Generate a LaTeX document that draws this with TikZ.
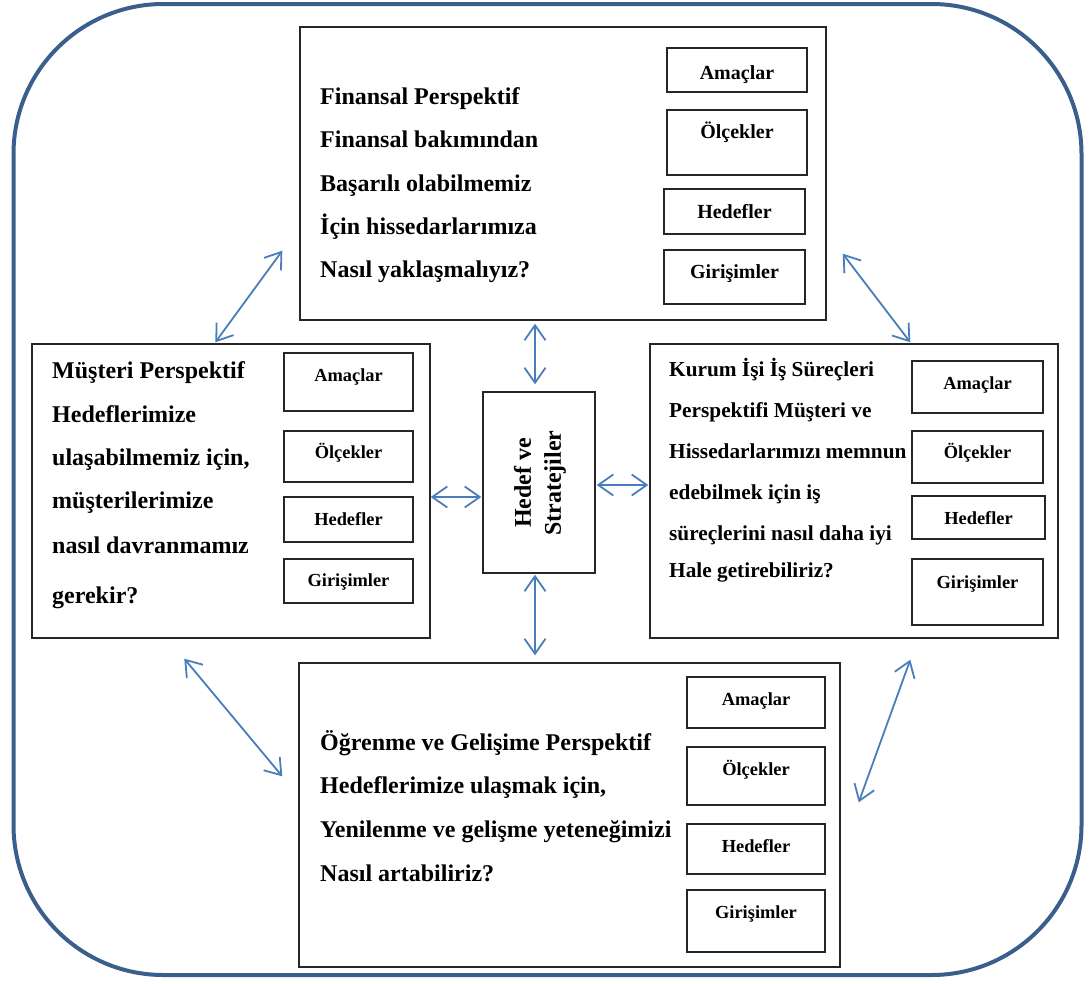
\documentclass[tikz,border=0pt]{standalone}
\usepackage{fontspec}
\setmainfont{Liberation Serif}
\usetikzlibrary{arrows.meta,calc,fit}

\definecolor{frameblue}{RGB}{59,95,140}
\definecolor{arrowblue}{RGB}{74,126,187}
\definecolor{boxline}{RGB}{38,38,38}

\tikzset{
  frame/.style={draw=frameblue, line width=4pt, rounded corners=150pt, inner sep=0pt},
  panel/.style={draw=boxline, line width=1.4pt, inner sep=0pt},
  kpi/.style={draw=boxline, line width=1.2pt, inner sep=0pt},
  kpilabel/.style={anchor=base, inner sep=0pt, font=\bfseries\fontsize{18.4}{20}\selectfont},
  kpibig/.style={font=\bfseries\fontsize{20}{22}\selectfont},
  bodyline/.style={anchor=base west, inner sep=0pt},
  bodybig/.style={font=\bfseries\fontsize{24}{28}\selectfont},
  bodysmall/.style={font=\bfseries\fontsize{21.3}{25}\selectfont},
  biarrow/.style={draw=arrowblue, line width=1.8pt,
    {Straight Barb[length=15pt,width=21pt]}-{Straight Barb[length=15pt,width=21pt]}},
}

% small framed box with its label: [label style]{name}{x1}{y1}{x2}{y2}{label baseline}{text}
\newcommand{\kpi}[8][]{%
  \node[kpi, fit={(#3,#4) (#5,#6)}] (#2) {};
  \node[kpilabel, #1] (#2-l) at ({(#3+#5)/2},#7) {#8};
}

\begin{document}
\begin{tikzpicture}[x=1pt, y=-1pt]
\useasboundingbox (0,0) rectangle (1089,983);

% outer frame
\node[frame, fit={(13.5,4) (1081.5,975)}] (outer) {};

% perspective panels
\node[panel, fit={(300,27) (826,320)}] (fin) {};
\node[panel, fit={(32,344) (430,638)}] (mus) {};
\node[panel, fit={(650,344) (1058,638)}] (krm) {};
\node[panel, fit={(299,663) (840,967)}] (lrn) {};
\node[panel, fit={(483,392) (595,573)}] (ctr) {};

% centre label
\node[rotate=90, align=center, inner sep=0pt,
      font=\bfseries\fontsize{24}{30}\selectfont] (ctr-t) at (540,483) {Hedef ve\\Stratejiler};

% financial perspective
\foreach \y/\txt [count=\i] in {104/Finansal Perspektif, 147/Finansal bakımından,
    191/Başarılı olabilmemiz, 234/İçin hissedarlarımıza, 277/Nasıl yaklaşmalıyız?}
  \node[bodyline, bodybig] (fin-t\i) at (320,\y) {\txt};
\kpi[kpibig]{fin-a}{667}{48}{807}{92}{79}{Amaçlar}
\kpi[kpibig]{fin-o}{667}{110}{807}{175}{138}{Ölçekler}
\kpi[kpibig]{fin-h}{664}{189}{805}{234}{218}{Hedefler}
\kpi[kpibig]{fin-g}{664}{250}{805}{304}{278}{Girişimler}

% customer perspective
\foreach \y/\txt [count=\i] in {378/Müşteri Perspektif, 422/Hedeflerimize,
    {465/ulaşabilmemiz için,}, 508/müşterilerimize, 553/nasıl davranmamız, 603/gerekir?}
  \node[bodyline, bodybig] (mus-t\i) at (52,\y) {\txt};
\kpi{mus-a}{284}{353}{413}{411}{381}{Amaçlar}
\kpi{mus-o}{284}{431}{413}{482}{458}{Ölçekler}
\kpi{mus-h}{284}{497}{413}{542}{525}{Hedefler}
\kpi{mus-g}{284}{559}{413}{603}{586}{Girişimler}

% internal business process perspective
\foreach \y/\txt [count=\i] in {376/Kurum İşi İş Süreçleri, 417/Perspektifi Müşteri ve,
    458/Hissedarlarımızı memnun, 499/edebilmek için iş, 540/süreçlerini nasıl daha iyi,
    577/Hale getirebiliriz?}
  \node[bodyline, bodysmall] (krm-t\i) at (669,\y) {\txt};
\kpi{krm-a}{912}{361}{1043}{413}{389}{Amaçlar}
\kpi{krm-o}{912}{431}{1043}{483}{458}{Ölçekler}
\kpi{krm-h}{912}{496}{1045}{539}{524}{Hedefler}
\kpi{krm-g}{912}{559}{1043}{625}{588}{Girişimler}

% learning and growth perspective
\foreach \y/\txt [count=\i] in {750/Öğrenme ve Gelişime Perspektif, {793/Hedeflerimize ulaşmak için,},
    837/Yenilenme ve gelişme yeteneğimizi, 881/Nasıl artabiliriz?}
  \node[bodyline, bodybig] (lrn-t\i) at (320,\y) {\txt};
\kpi{lrn-a}{687}{677}{825}{728}{705}{Amaçlar}
\kpi{lrn-o}{687}{747}{825}{805}{775}{Ölçekler}
\kpi{lrn-h}{687}{824}{825}{874}{852}{Hedefler}
\kpi{lrn-g}{687}{890}{825}{952}{918}{Girişimler}

% links to the centre box
\draw[biarrow] ($(ctr.north|-fin.south)+(-4,3)$) -- ($(ctr.north)+(-4,-7)$);
\draw[biarrow] ($(ctr.south)+(-4,1)$) -- ($(ctr.south|-lrn.north)+(-4,-7)$);
\draw[biarrow] ($(mus.east|-ctr.west)+(0,14.5)$) -- ($(ctr.west)+(-1,14.5)$);
\draw[biarrow] ($(ctr.east)+(1,2.5)$) -- ($(krm.west|-ctr.east)+(-1,2.5)$);

% links between neighbouring perspectives
\draw[biarrow] ($(fin.south west)+(-17,-70)$) -- ($(mus.north west)+(184,-1)$);
\draw[biarrow] ($(fin.south east)+(16,-67)$) -- ($(krm.north west)+(261,-1)$);
\draw[biarrow] ($(mus.south west)+(153,20)$) -- ($(lrn.north west)+(-16,114)$);
\draw[biarrow] ($(krm.south west)+(261,21)$) -- ($(lrn.north east)+(18,140)$);
\end{tikzpicture}
\end{document}
